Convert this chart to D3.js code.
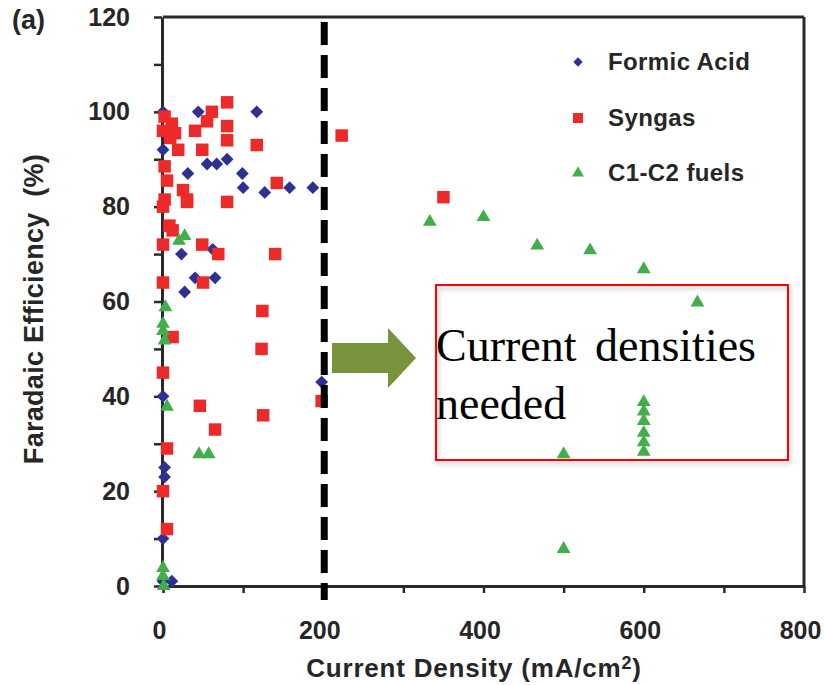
<!DOCTYPE html>
<html><head><meta charset="utf-8">
<script src="https://cdn.jsdelivr.net/npm/d3@7"></script>
<style>body{margin:0;background:#fff}svg{display:block}</style>
</head><body>
<svg id="chart" width="824" height="685"></svg>
<script>
// ---------- data ----------
const xTickValues = [0, 100, 200, 300, 400, 500, 600, 700, 800];
const xTickLabels = ["0", "", "200", "", "400", "", "600", "", "800"];
const yTickValues = [0, 10, 20, 30, 40, 50, 60, 70, 80, 90, 100, 110, 120];
const yTickLabels = ["0", "", "20", "", "40", "", "60", "", "80", "", "100", "", "120"];
const seriesNames = ["Formic Acid", "Syngas", "C1-C2 fuels"];
const formicAcid = [
  [0,100],[44,100],[117,100],[0,92],[55,89],[67,89],[80,90],[31,87],[99,87],[100,84],
  [127,83],[158,84],[187,84],[23,70],[62,71],[40,65],[65,65],[27,62],[198,43],[0,40],
  [2,25],[2,23],[0,10],[0,1],[11,1]
];
const syngas = [
  [80,102],[61,100],[55,98],[40,96],[80,97],[80,94],[117,93],[223,95],[19,92],[49,92],
  [142,85],[25,83.5],[80,81],[0,80],[30,81],[8,76],[12,75],[0,72],[49,72],[69,70],
  [140,70],[50,64],[0,64],[124,58],[12,52.5],[123,50],[0,45],[46,38],[125,36],[65,33],
  [5,29],[198,39],[0,20],[5,12],[350,82],
  [2,99],[11,97.5],[15,95.5],[9,94.5],[0,96],[2,88.5],[5,85.5],[2,81.5],[30,81.5]
];
const c1c2Fuels = [
  [333,77],[400,78],[467,72],[533,71],[600,67],[667,60],[500,28],[500,8],
  [600,39],[600,37],[600,35],[600,32.5],[600,30.5],[600,28.5],
  [20,73],[27,74],[3,59],[0,55.5],[0,54],[2,52],[5,38],[45,28],[57,28],
  [0,4],[0,2.3],[1,0.2]
];
const thresholdDensity = 200;
const panelLabel = "(a)";
const xTitle = "Current Density (mA/cm";
const yTitle = "Faradaic Efficiency\u00a0\u00a0(%)";
const noteLine1 = ["Current", "densities"];
const noteLine2 = "needed";

// ---------- setup ----------
const svg = d3.select("#chart");
const x = d3.scaleLinear().domain([0, 800]).range([163, 804]);
const y = d3.scaleLinear().domain([0, 120]).range([586, 17]);
const colors = { blue: "#2E3192", red: "#EC2A2A", green: "#42AE4A" };
const axisColor = "#2a2a2a";
const labelFont = "'Liberation Sans', Arial, Helvetica, sans-serif";

const defs = svg.append("defs");
const f = defs.append("filter").attr("id", "shadow").attr("x", "-5%").attr("y", "-5%").attr("width", "115%").attr("height", "115%");
f.append("feDropShadow").attr("dx", 2).attr("dy", 3).attr("stdDeviation", 2).attr("flood-color", "#000").attr("flood-opacity", 0.25);

// frame (top & right)
svg.append("line").attr("x1", x(0)).attr("x2", x(800)).attr("y1", y(120)).attr("y2", y(120))
  .attr("stroke", axisColor).attr("stroke-width", 3);
svg.append("line").attr("x1", x(800)).attr("x2", x(800)).attr("y1", y(120)).attr("y2", y(0))
  .attr("stroke", axisColor).attr("stroke-width", 3);

// axes
const xAxis = d3.axisBottom(x).tickValues(xTickValues).tickSize(7).tickSizeOuter(0).tickPadding(28)
  .tickFormat((d, i) => xTickLabels[i]);
const yAxis = d3.axisLeft(y).tickValues(yTickValues).tickSize(8).tickSizeOuter(0).tickPadding(24)
  .tickFormat((d, i) => yTickLabels[i]);

const gx = svg.append("g").attr("transform", `translate(0,${y(0)})`).call(xAxis);
const gy = svg.append("g").attr("transform", `translate(${x(0) - 1},0)`).call(yAxis);
[gx, gy].forEach(g => {
  g.select(".domain").attr("stroke", axisColor).attr("stroke-width", 3);
  g.selectAll(".tick line").attr("stroke", axisColor).attr("stroke-width", 2.5);
  g.selectAll(".tick text").attr("fill", "#262626").attr("font-family", labelFont)
    .attr("font-weight", "bold").attr("font-size", 25);
});
gx.selectAll(".tick text").attr("dx", -4);

// axis titles
svg.append("text").attr("x", 474).attr("y", 677).attr("text-anchor", "middle")
  .attr("font-family", labelFont).attr("font-weight", "bold").attr("font-size", 26).attr("fill", "#262626")
  .attr("letter-spacing", 0.8)
  .call(t => { t.append("tspan").text(xTitle);
               t.append("tspan").attr("font-size", 18).attr("dy", -8).text("2");
               t.append("tspan").attr("dy", 8).text(")"); });
svg.append("text").attr("transform", "translate(43,309) rotate(-90)").attr("text-anchor", "middle")
  .attr("font-family", labelFont).attr("font-weight", "bold").attr("font-size", 27).attr("fill", "#262626")
  .attr("letter-spacing", 0.3)
  .text(yTitle);
svg.append("text").attr("x", 12).attr("y", 29).attr("font-family", labelFont).attr("font-weight", "bold")
  .attr("font-size", 27).attr("fill", "#262626").text(panelLabel);

// symbols
const diamond = d3.symbol().type(d3.symbolSquare).size(82)();
const square = d3.symbol().type(d3.symbolSquare).size(156)();
const triangle = d3.symbol().type(d3.symbolTriangle).size(82)();

const plot = svg.append("g");
plot.selectAll(".fa").data(formicAcid).join("path").attr("d", diamond)
  .attr("transform", d => `translate(${x(d[0])},${y(d[1])}) rotate(45)`).attr("fill", colors.blue);
plot.selectAll(".sg").data(syngas).join("path").attr("d", square)
  .attr("transform", d => `translate(${x(d[0])},${y(d[1])})`).attr("fill", colors.red);
plot.selectAll(".c1").data(c1c2Fuels).join("path").attr("d", triangle)
  .attr("transform", d => `translate(${x(d[0])},${y(d[1]) + 1})`).attr("fill", colors.green);

// legend
const legendItems = [
  { name: seriesNames[0], sym: d3.symbol().type(d3.symbolSquare).size(44)(), rot: 45, color: colors.blue },
  { name: seriesNames[1], sym: d3.symbol().type(d3.symbolSquare).size(100)(), rot: 0, color: colors.red },
  { name: seriesNames[2], sym: d3.symbol().type(d3.symbolTriangle).size(60)(), rot: 0, color: colors.green }
];
const lg = svg.append("g");
const legendY = [62, 118, 173];
legendItems.forEach((it, i) => {
  lg.append("path").attr("d", it.sym).attr("fill", it.color)
    .attr("transform", `translate(578,${legendY[i]}) rotate(${it.rot})`);
  lg.append("text").attr("x", 608).attr("y", legendY[i] + 8).attr("font-family", labelFont)
    .attr("font-weight", "bold").attr("font-size", 24).attr("fill", "#262626")
    .attr("letter-spacing", 0.4).text(it.name);
});

// threshold dashed line
svg.append("line").attr("x1", x(thresholdDensity) + 1).attr("x2", x(thresholdDensity) + 1)
  .attr("y1", 22).attr("y2", 600).attr("stroke", "#000").attr("stroke-width", 7)
  .attr("stroke-dasharray", "23 10");

// arrow
svg.append("path").attr("d", "M332,343 L388,343 L388,328 L416,358 L388,388 L388,373 L332,373 Z")
  .attr("fill", "#77933C");

// annotation box
svg.append("rect").attr("x", 436).attr("y", 285).attr("width", 352).attr("height", 175)
  .attr("fill", "none").attr("stroke", "#FF0000").attr("stroke-width", 2).attr("filter", "url(#shadow)");
const serif = "'Liberation Serif', 'Times New Roman', serif";
svg.append("text").attr("x", 436).attr("y", 361).attr("font-family", serif).attr("font-size", 46).attr("fill", "#000").text(noteLine1[0]);
svg.append("text").attr("x", 595).attr("y", 361).attr("font-family", serif).attr("font-size", 46).attr("fill", "#000").text(noteLine1[1]);
svg.append("text").attr("x", 436).attr("y", 419).attr("font-family", serif).attr("font-size", 46).attr("fill", "#000").text(noteLine2);
</script>
</body></html>
